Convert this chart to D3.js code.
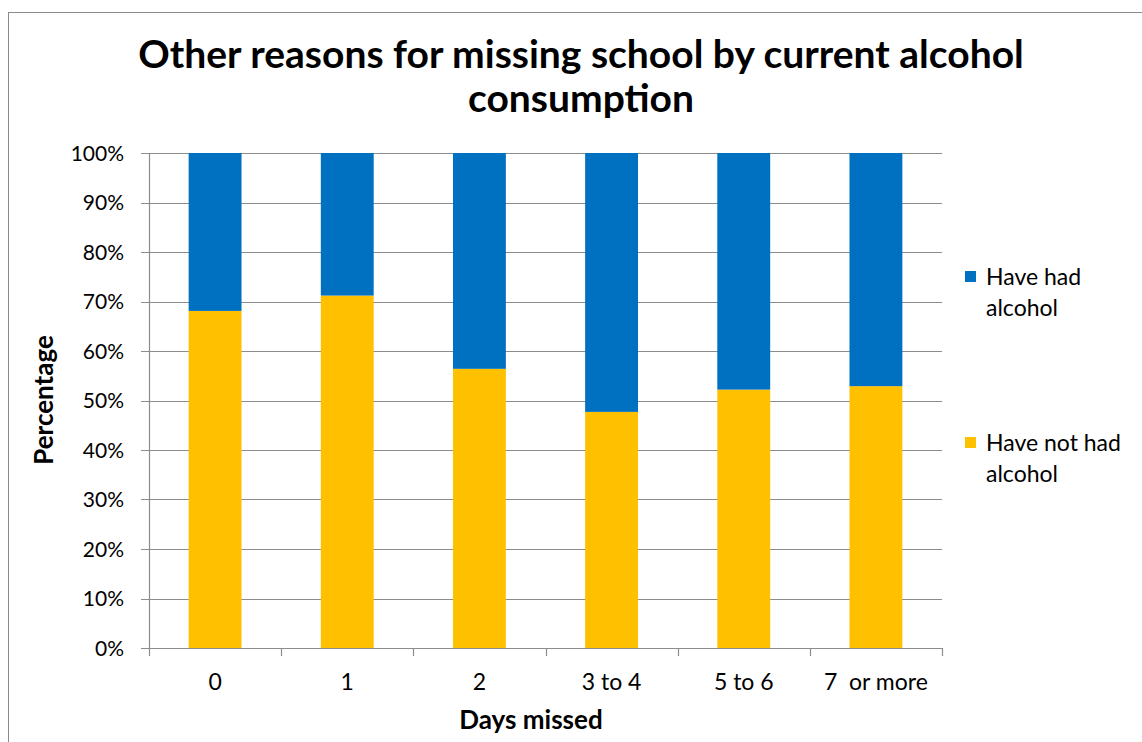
<!DOCTYPE html>
<html>
<head>
<meta charset="utf-8">
<script src="https://cdn.jsdelivr.net/npm/d3@7"></script>
<style>
  html, body { margin: 0; padding: 0; background: #fff; }
  svg { display: block; }
  text { font-family: Lato, "Open Sans", sans-serif; fill: #000; }
</style>
</head>
<body>
<svg id="chart" width="1142" height="742"></svg>
<script>
// ---- Data ----
const categories = ["0", "1", "2", "3 to 4", "5 to 6", "7  or more"];
const haveNotHad = [68.1, 71.2, 56.4, 47.7, 52.2, 52.9];
const haveHad = [31.9, 28.8, 43.6, 52.3, 47.8, 47.1];
const seriesNames = ["Have had alcohol", "Have not had alcohol"];
const seriesColors = ["#0070C0", "#FFC000"];
const yTicks = [0, 10, 20, 30, 40, 50, 60, 70, 80, 90, 100];
const titleLines = ["Other reasons for missing school by current alcohol", "consumption"];

// ---- Layout ----
const W = 1142, H = 742;
const plot = { left: 149, right: 942, top: 153, bottom: 648 };
const svg = d3.select("#chart");

// outer frame
svg.append("rect")
  .attr("x", 8.5).attr("y", 12.5)
  .attr("width", W).attr("height", H)
  .attr("fill", "none").attr("stroke", "#8a8a8a").attr("stroke-width", 1);

const x = d3.scaleBand().domain(categories)
  .range([plot.left, plot.right]).paddingInner(0.6).paddingOuter(0.3);
const y = d3.scaleLinear().domain([0, 100]).range([plot.bottom, plot.top]);

// gridlines
svg.append("g").selectAll("line").data(yTicks).join("line")
  .attr("x1", plot.left - 8).attr("x2", plot.right)
  .attr("y1", d => Math.round(y(d)) + 0.5).attr("y2", d => Math.round(y(d)) + 0.5)
  .attr("stroke", "#8c8c8c").attr("stroke-width", 1.2);

// y axis line
svg.append("line")
  .attr("x1", plot.left + 0.5).attr("x2", plot.left + 0.5)
  .attr("y1", plot.top).attr("y2", plot.bottom)
  .attr("stroke", "#8c8c8c").attr("stroke-width", 1.2);

// y tick labels
svg.append("g").selectAll("text").data(yTicks).join("text")
  .attr("x", 124).attr("y", d => y(d))
  .attr("dy", "0.36em").attr("text-anchor", "end")
  .attr("font-size", 21)
  .text(d => d + "%");

// stacked bars
const stackData = categories.map((c, i) => ({ cat: c, notHad: haveNotHad[i], had: haveHad[i] }));
const stack = d3.stack().keys(["notHad", "had"])(stackData);
const colorByKey = { notHad: seriesColors[1], had: seriesColors[0] };
svg.append("g").selectAll("g").data(stack).join("g")
  .attr("fill", d => colorByKey[d.key])
  .selectAll("rect").data(d => d).join("rect")
  .attr("x", d => x(d.data.cat))
  .attr("width", x.bandwidth())
  .attr("y", d => y(d[1]))
  .attr("height", d => y(d[0]) - y(d[1]));

// x axis line & ticks
svg.append("line")
  .attr("x1", plot.left).attr("x2", plot.right)
  .attr("y1", plot.bottom + 0.5).attr("y2", plot.bottom + 0.5)
  .attr("stroke", "#8c8c8c").attr("stroke-width", 1.2);
const boundaries = [plot.left].concat(categories.map(c => x(c) - x.step() * x.paddingInner() / 2 + x.step()));
svg.append("g").selectAll("line").data(boundaries).join("line")
  .attr("x1", d => Math.round(d) + 0.5).attr("x2", d => Math.round(d) + 0.5)
  .attr("y1", plot.bottom).attr("y2", plot.bottom + 8)
  .attr("stroke", "#8c8c8c").attr("stroke-width", 1.2);

// x tick labels
svg.append("g").selectAll("text").data(categories).join("text")
  .attr("x", d => x(d) + x.bandwidth() / 2)
  .attr("y", 690)
  .attr("text-anchor", "middle").attr("font-size", 23)
  .style("white-space", "pre")
  .text(d => d);

// axis titles
svg.append("text")
  .attr("x", 531).attr("y", 729)
  .attr("text-anchor", "middle").attr("font-size", 26).attr("font-weight", "bold")
  .text("Days missed");
svg.append("text")
  .attr("transform", "translate(53,400) rotate(-90)")
  .attr("text-anchor", "middle").attr("font-size", 26).attr("font-weight", "bold")
  .text("Percentage");

// title
svg.append("g").selectAll("text").data(titleLines).join("text")
  .attr("x", 581).attr("y", (d, i) => 68 + i * 44)
  .attr("text-anchor", "middle").attr("font-size", 39).attr("font-weight", "bold")
  .text(d => d);

// legend
const legendItems = [
  { name: seriesNames[0], lines: ["Have had", "alcohol"], color: seriesColors[0], y: 271 },
  { name: seriesNames[1], lines: ["Have not had", "alcohol"], color: seriesColors[1], y: 437 }
];
const lg = svg.append("g").selectAll("g").data(legendItems).join("g");
lg.append("rect").attr("x", 965).attr("y", d => d.y).attr("width", 11).attr("height", 11)
  .attr("fill", d => d.color);
lg.each(function(d) {
  d3.select(this).selectAll("text").data(d.lines).join("text")
    .attr("x", 986).attr("y", (t, i) => d.y + 14 + i * 31)
    .attr("font-size", 23)
    .text(t => t);
});
</script>
</body>
</html>
